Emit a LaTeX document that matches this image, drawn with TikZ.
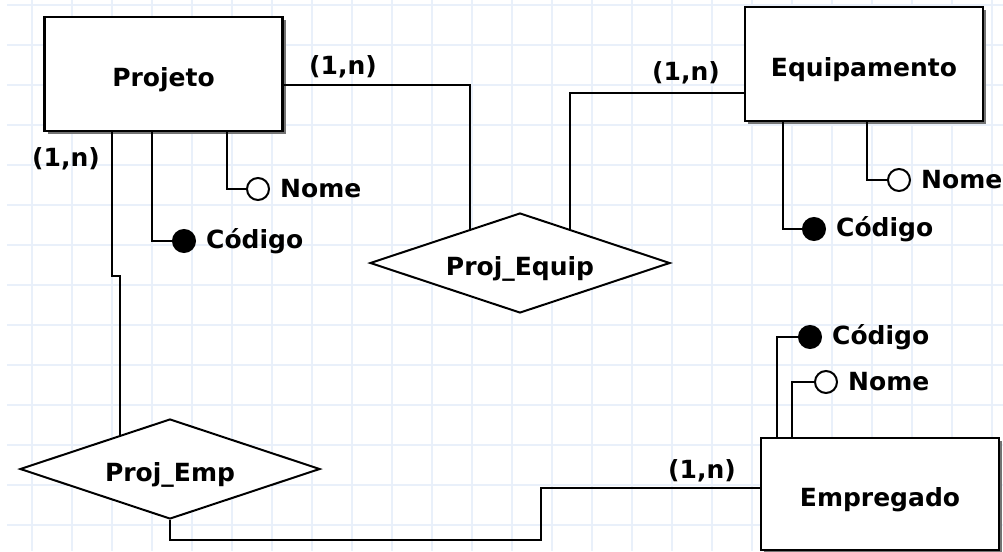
\documentclass[tikz,border=0pt]{standalone}
\usepackage{fontspec}
\setmainfont{DejaVu Sans}
\usetikzlibrary{shapes.geometric,shadows}
\definecolor{gradeazul}{RGB}{233,240,250}
\tikzset{
	every node/.style={font=\fontsize{25pt}{30pt}\selectfont\bfseries},
	grade/.style={line width=1.5pt, color=gradeazul},
	liga/.style={line width=2pt},
	entidade/.style={draw, line width=2.5pt, fill=white, minimum width=238pt, minimum height=114pt, text height=24pt, text depth=0pt, general shadow={shadow xshift=3pt, shadow yshift=-3pt, fill=black!55}},
	relacao/.style={diamond, draw, line width=2pt, fill=white, aspect=3, inner sep=0pt, minimum width=300pt, minimum height=100pt, text height=24pt, text depth=0pt},
	atrib/.style={circle, draw, line width=2pt, fill=white, minimum size=22pt, inner sep=0pt, label={[label distance=10pt, inner sep=0pt]right:#1}},
	chave/.style={atrib=#1, fill=black},
	card/.style={inner sep=0pt}
}

\begin{document}
\begin{tikzpicture}[x=1pt, y=-1pt]
			%%%%% START %%%%%
			
			\useasboundingbox (0,0) rectangle (1003,551);
			
			\foreach \y in {5,45,...,545} \draw[grade] (7,\y) -- (1003,\y);
			\foreach \x in {32,72,...,992} \draw[grade] (\x,0) -- (\x,551);
			
			\node[entidade] (projeto) at (163.5,74) {Projeto};
			\node[entidade] (equipamento) at (864,64) {Equipamento};
			\node[entidade, minimum height=112pt] (empregado) at (880,494) {Empregado};
			
			\node[relacao] (projequip) at (520,263) {Proj\_Equip};
			\node[relacao] (projemp) at (170,469) {Proj\_Emp};
			
			\node[chave=Código] (projcod) at (184,241) {};
			\node[atrib=Nome] (projnome) at (258,189) {};
			\node[chave=Código] (equipcod) at (814,229) {};
			\node[atrib=Nome] (equipnome) at (899,180) {};
			\node[chave=Código] (empcod) at (810,337) {};
			\node[atrib=Nome] (empnome) at (826,382) {};
			
			\node[card] (cardpe1) at (343,67) {(1,n)};
			\node[card] (cardpe2) at (66,159) {(1,n)};
			\node[card] (cardeq) at (686,73) {(1,n)};
			\node[card] (cardem) at (702,471) {(1,n)};
			
			\draw[liga] ([yshift=-11pt]projeto.east) -| (projequip.146);
			\draw[liga] ([yshift=-29pt]equipamento.west) -| (projequip.34);
			\draw[liga] ([xshift=-51.5pt]projeto.south) -- ++(0,144) -| (projemp.146);
			\draw[liga] (projemp.south) -- ++(0,20) -- ++(371,0) |- ([yshift=6pt]empregado.west);
			
			\draw[liga] ([xshift=-11.5pt]projeto.south) |- (projcod.west);
			\draw[liga] ([xshift=63.5pt]projeto.south) |- (projnome.west);
			\draw[liga] ([xshift=-81pt]equipamento.south) |- (equipcod.west);
			\draw[liga] ([xshift=3pt]equipamento.south) |- (equipnome.west);
			\draw[liga] ([xshift=-103pt]empregado.north) |- (empcod.west);
			\draw[liga] ([xshift=-88pt]empregado.north) |- (empnome.west);
			
			%%%%% END %%%%%
\end{tikzpicture}
\end{document}
